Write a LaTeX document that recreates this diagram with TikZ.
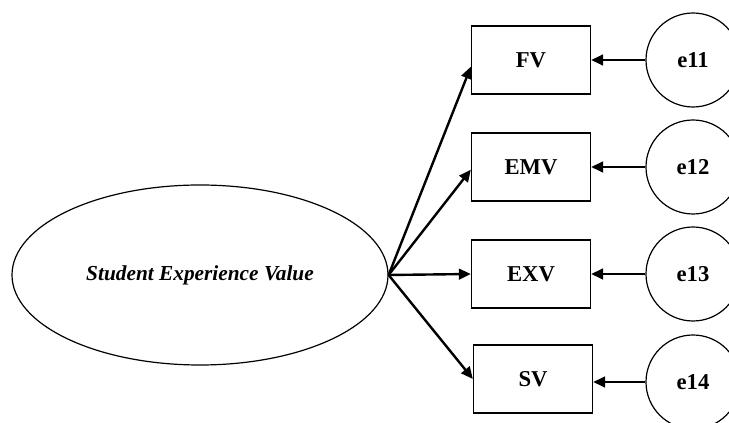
\documentclass[tikz,border=0pt]{standalone}
\usepackage{fontspec}
\setmainfont{Liberation Serif}
\usetikzlibrary{shapes.geometric,arrows.meta}

\tikzset{
  latent/.style={draw,ellipse,line width=0.9pt,inner sep=0pt,
    minimum width=282pt,minimum height=135pt,
    font=\bfseries\itshape\fontsize{16}{18}\selectfont},
  obs/.style={draw,rectangle,line width=1.2pt,inner sep=0pt,
    minimum width=89pt,minimum height=51pt,
    font=\bfseries\fontsize{17}{20}\selectfont},
  err/.style={draw,circle,line width=0.9pt,inner sep=0pt,
    minimum size=70.5pt,font=\bfseries\fontsize{17}{20}\selectfont},
  path/.style={line width=1.8pt,-{Triangle[length=9pt,width=8pt]}}
}

\begin{document}
\begin{tikzpicture}[x=0.75pt,y=-0.75pt]
    \clip (0,0) rectangle (729,423);

    % latent variable
    \node[latent] (sev) at (200,275) {Student Experience Value};

    % indicators
    \node[obs] (fv)  at (531,60)  {FV};
    \node[obs] (emv) at (531,167) {EMV};
    \node[obs] (exv) at (531,274) {EXV};
    \node[obs] (sv)  at (533,379) {SV};

    % errors
    \node[err] (e11) at (693,60)  {e11};
    \node[err] (e12) at (693,167) {e12};
    \node[err] (e13) at (693,274) {e13};
    \node[err] (e14) at (693,382) {e14};

    \draw[path] (sev.east) -- ([yshift=-5pt]fv.west);
    \draw[path] (sev.east) -- ([yshift=-2pt]emv.west);
    \draw[path] (sev.east) -- (exv.west);
    \draw[path] (sev.east) -- (sv.west);

    \draw[path] (e11) -- (fv);
    \draw[path] (e12) -- (emv);
    \draw[path] (e13) -- (exv);
    \draw[path] (e14.west) -- (sv.east |- e14.west);
\end{tikzpicture}
\end{document}
